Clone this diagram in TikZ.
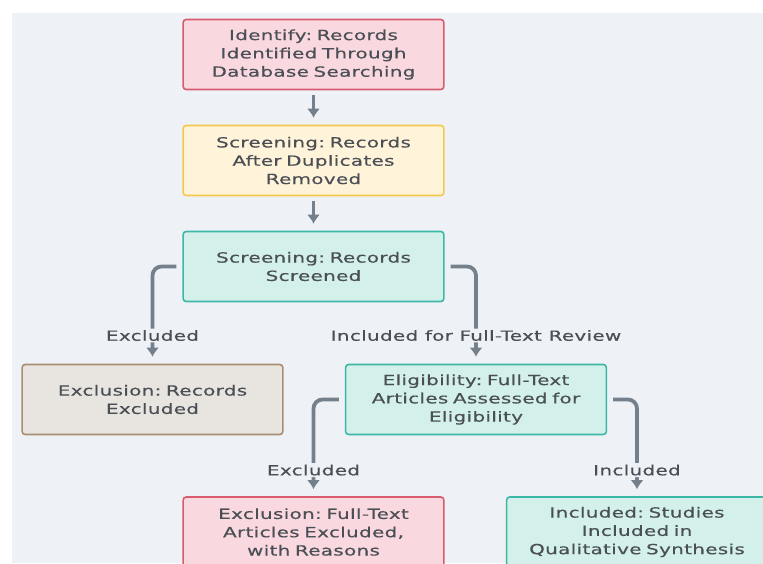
\documentclass[tikz,border=0pt]{standalone}
\usepackage{fontspec}
\setmainfont{DejaVu Sans}[FakeStretch=1.42, LetterSpace=2.5, FakeBold=0.4]
\usetikzlibrary{shapes,arrows,arrows.meta,calc,positioning}
\definecolor{bgcol}{HTML}{EEF2F6}
\definecolor{txtcol}{HTML}{4A4E55}
\definecolor{linecol}{HTML}{75808D}
\definecolor{pinkfill}{HTML}{F9D9DF}
\definecolor{pinkline}{HTML}{D95B6E}
\definecolor{yellowfill}{HTML}{FFF4D9}
\definecolor{yellowline}{HTML}{F4C84A}
\definecolor{tealfill}{HTML}{D3F0EA}
\definecolor{tealline}{HTML}{3DB7A6}
\definecolor{beigefill}{HTML}{E8E5E0}
\definecolor{beigeline}{HTML}{A88F72}
\tikzstyle{box} = [draw, rectangle, rounded corners=3pt, line width=1.6pt, minimum width=259pt, minimum height=70pt, text width=254pt, text centered, text=txtcol, font=\fontsize{14}{18.3}\selectfont]
\tikzstyle{pinkbox} = [box, fill=pinkfill, draw=pinkline]
\tikzstyle{yellowbox} = [box, fill=yellowfill, draw=yellowline]
\tikzstyle{tealbox} = [box, fill=tealfill, draw=tealline]
\tikzstyle{beigebox} = [box, fill=beigefill, draw=beigeline]
\tikzstyle{line} = [draw, line width=3.8pt, linecol, rounded corners=9pt, -{Latex[length=9pt,width=13pt]}]
\tikzstyle{edgetext} = [fill=bgcol, text=txtcol, anchor=center, inner xsep=4pt, inner ysep=1.5pt, font=\fontsize{14}{18}\selectfont]

\begin{document}
\frenchspacing
\begin{tikzpicture}[node distance=106pt]
	\clip (0,0) rectangle (763pt,-563pt);
	\fill [bgcol] (12pt,-13pt) rectangle (763pt,-563pt);
	\node [pinkbox] (identify) at (313.5pt,-54.5pt) {Identify: Records\\Identified Through\\Database Searching};
	\node [yellowbox, below of=identify] (dedup) {Screening: Records\\After Duplicates\\Removed};
	\node [tealbox, below of=dedup] (screened) {Screening: Records\\Screened};
	\node [beigebox] (recexcl) at ($(screened)+(-161pt,-133pt)$) {Exclusion: Records\\Excluded};
	\node [tealbox] (eligible) at ($(screened)+(162.5pt,-133pt)$) {Eligibility: Full-Text\\Articles Assessed for\\Eligibility};
	\node [pinkbox] (ftexcl) at ($(eligible)+(-162.5pt,-132.5pt)$) {Exclusion: Full-Text\\Articles Excluded,\\with Reasons};
	\node [tealbox] (included) at ($(eligible)+(161pt,-132.5pt)$) {Included: Studies\\Included in\\Qualitative Synthesis};

	\path [line, shorten <=5pt, shorten >=7pt] (identify) -- (dedup);
	\path [line, shorten <=5pt, shorten >=7pt] (dedup) -- (screened);
	\path [line, shorten >=7pt] ([xshift=-6pt]screened.west) -| node[edgetext, pos=0.855]{Excluded} (recexcl);
	\path [line, shorten >=7pt] ([xshift=6pt]screened.east) -| node[edgetext, pos=0.855]{Included for Full-Text Review} (eligible);
	\path [line, shorten >=7pt] ([xshift=-6pt]eligible.west) -| node[edgetext, pos=0.865]{Excluded} (ftexcl);
	\path [line, shorten >=7pt] ([xshift=6pt]eligible.east) -| node[edgetext, pos=0.865]{Included} (included);
\end{tikzpicture}
\end{document}
